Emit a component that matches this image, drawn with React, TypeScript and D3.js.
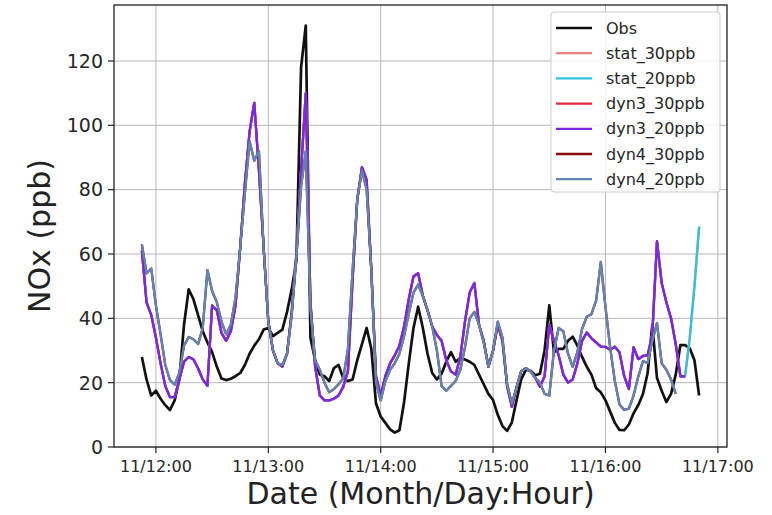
import React from "react";
import * as d3 from "d3";

// Hourly NOx series (ppb), starting 11/11 21:00
const obs = [28,21,16,17.5,15,13,11.5,14.5,21,38,49,46,41,36,32.5,29.5,25,21.3,20.8,21.2,22,23,25.5,29,31.5,33.5,36.5,37,34.5,35.5,36.5,42,49,58,118,131,34,27,22.5,22,20.5,24.5,25.5,21.4,20.5,21,27,32,37,30.5,13.5,9.5,7.5,5.5,4.5,5.2,14,26,37,43.6,37,29,23,21,22.8,26.5,29.5,26.5,27.7,27.2,26.5,25.5,22.5,19.5,16.5,14.6,10,6.5,5,7.6,14.5,21,24,23.7,22.3,22.8,30,44,29.5,30.5,30.5,33,34.3,31.5,28,25,22.5,18.3,17,14.5,11,7.5,5.3,5.2,7,10.5,13,16.5,23,38,21.5,17.5,14,16.5,22.5,31.7,31.7,30.7,27,16];

const dyn3_20ppb = [61,45,41,34,26,19,15.5,15.5,21,26.5,28,27.3,24.5,21,19,44,42.5,35.5,33,36,44,62,82,98,107,86,62,39,30,26,25,29,42,60,86,110,45,25,16,14.5,14.5,15,16,18.7,23.5,52,77,87,83,55,22,16,22,26,28.5,31.5,37.5,46,53,54,47,42.5,37.5,34.8,33,27,23.5,22.5,28,39,48,51,38,33,25,30,38,33,19,12.5,18.5,23.5,24.5,23.5,21.5,18.7,22,38,33,28.5,22.5,20,21,26,33,35.6,33.8,32.5,31.2,31.1,30.2,31.2,29.4,22,18,31,27.3,28.3,28.5,35,64,51,45,40,32,22,22];
const dyn3_30ppb = [...dyn3_20ppb];

const dyn4_20ppb = [63,54,55.5,44,35,25.5,20.8,19.4,23,31.5,34.2,33.5,32,37,55,48.5,45,39,35,38,46.5,62,79,95,89,92,62,39,30,26,25.5,29,41,59,81,92,43,27,24,20,17,18,19.5,21.3,30.5,55,77,86,80,55,20,14.5,20.5,24,26,29,34.5,41.5,48,50.5,47,42.5,37.5,30,19,17.5,19,20.5,24,31,40,42,38,32.5,25,30,39,34,19.5,13.5,18.5,23.5,24.5,23.5,21.5,20,16.5,16,30,37,36,29,24.9,29.5,36.7,40.5,41.3,45.5,57.5,43.5,31,20.5,13.2,11.5,11.9,16,21.9,26.7,26.1,33,38.5,26,24,21,16.5];
const dyn4_30ppb = [...dyn4_20ppb];

// Static runs continue three hours past the dynamic ones
const stat_20ppb = [...dyn3_20ppb, 34, 50, 68.5];
const stat_30ppb = [...stat_20ppb];

const seriesNames = ["Obs", "stat_30ppb", "stat_20ppb", "dyn3_30ppb", "dyn3_20ppb", "dyn4_30ppb", "dyn4_20ppb"];
const seriesValues = [obs, stat_30ppb, stat_20ppb, dyn3_30ppb, dyn3_20ppb, dyn4_30ppb, dyn4_20ppb];
const seriesColors = ["#111111", "#f08080", "#2ec4dc", "#e0283a", "#7a28e6", "#8b0a0a", "#5f87b3"];
const seriesWidths = [2.7, 2.3, 2.3, 2.3, 2.3, 2.3, 2.3];

const yTicks = [0, 20, 40, 60, 80, 100, 120];
const xTickDays = [12, 13, 14, 15, 16, 17];

const START = new Date(Date.UTC(2019, 10, 11, 21));
const times = d3.utcHour.range(START, d3.utcHour.offset(START, obs.length));

const W = 772, H = 515;
const plot = { left: 114, right: 727, top: 5, bottom: 447 };

export default function App() {
  const t0 = times[0].getTime();
  const t1 = times[times.length - 1].getTime();
  const pad = (t1 - t0) * 0.05;
  const x = d3.scaleUtc().domain([new Date(t0 - pad), new Date(t1 + pad)]).range([plot.left, plot.right]);
  const y = d3.scaleLinear().domain([0, 137.4]).range([plot.bottom, plot.top]);
  const line = d3.line<number>().x((_, i) => x(times[i])).y((d) => y(d));
  const fmt = d3.utcFormat("%m/%d:%H");
  const xTicks = xTickDays.map((d) => new Date(Date.UTC(2019, 10, d, 0)));
  const font = "DejaVu Sans, sans-serif";

  const leg = { x0: 551, y0: 12, x1: 720, y1: 192 };

  return (
    <svg width={W} height={H} style={{ position: "absolute", left: 0, top: 0, background: "#fff" }} fontFamily={font}>
      <rect x={0} y={0} width={W} height={H} fill="#fff" />
      <defs>
        <clipPath id="plotclip">
          <rect x={plot.left} y={plot.top} width={plot.right - plot.left} height={plot.bottom - plot.top} />
        </clipPath>
      </defs>
      {/* grid */}
      <g stroke="#b8b8b8" strokeWidth={1}>
        {yTicks.map((t) => (
          <line key={"gy" + t} x1={plot.left} x2={plot.right} y1={y(t)} y2={y(t)} />
        ))}
        {xTicks.map((t, i) => (
          <line key={"gx" + i} x1={x(t)} x2={x(t)} y1={plot.top} y2={plot.bottom} />
        ))}
      </g>
      {/* series */}
      <g clipPath="url(#plotclip)" fill="none" strokeLinejoin="round" strokeLinecap="butt">
        {seriesValues.map((vals, k) => (
          <path key={seriesNames[k]} d={line(vals) || ""} stroke={seriesColors[k]} strokeWidth={seriesWidths[k]} />
        ))}
      </g>
      {/* axes frame */}
      <rect x={plot.left} y={plot.top} width={plot.right - plot.left} height={plot.bottom - plot.top} fill="none" stroke="#222" strokeWidth={1.3} />
      {/* y ticks */}
      <g fill="#262626" fontSize={19} textAnchor="end">
        {yTicks.map((t) => (
          <g key={"yt" + t}>
            <line x1={plot.left - 6} x2={plot.left} y1={y(t)} y2={y(t)} stroke="#222" strokeWidth={1.2} />
            <text x={plot.left - 11} y={y(t)} dy="0.36em">{t}</text>
          </g>
        ))}
      </g>
      {/* x ticks */}
      <g fill="#262626" fontSize={16} textAnchor="middle">
        {xTicks.map((t, i) => (
          <g key={"xt" + i}>
            <line x1={x(t)} x2={x(t)} y1={plot.bottom} y2={plot.bottom + 6} stroke="#222" strokeWidth={1.2} />
            <text x={x(t)} y={472}>{fmt(t)}</text>
          </g>
        ))}
      </g>
      {/* axis labels */}
      <text x={(plot.left + plot.right) / 2} y={504} fontSize={30} textAnchor="middle" fill="#222">Date (Month/Day:Hour)</text>
      <text transform="translate(39,236) rotate(-90)" fontSize={30} textAnchor="middle" dominantBaseline="central" fill="#222">NOx (ppb)</text>
      {/* legend */}
      <rect x={leg.x0} y={leg.y0} width={leg.x1 - leg.x0} height={leg.y1 - leg.y0} rx={3} fill="#fff" fillOpacity={0.85} stroke="#cccccc" strokeWidth={1} />
      <g fontSize={16} fill="#262626">
        {seriesNames.map((name, k) => {
          const cy = 28 + k * 25.2;
          return (
            <g key={"lg" + name}>
              <line x1={556} x2={592} y1={cy} y2={cy} stroke={seriesColors[k]} strokeWidth={seriesWidths[k]} />
              <text x={606} y={cy} dy="0.35em">{name}</text>
            </g>
          );
        })}
      </g>
    </svg>
  );
}
